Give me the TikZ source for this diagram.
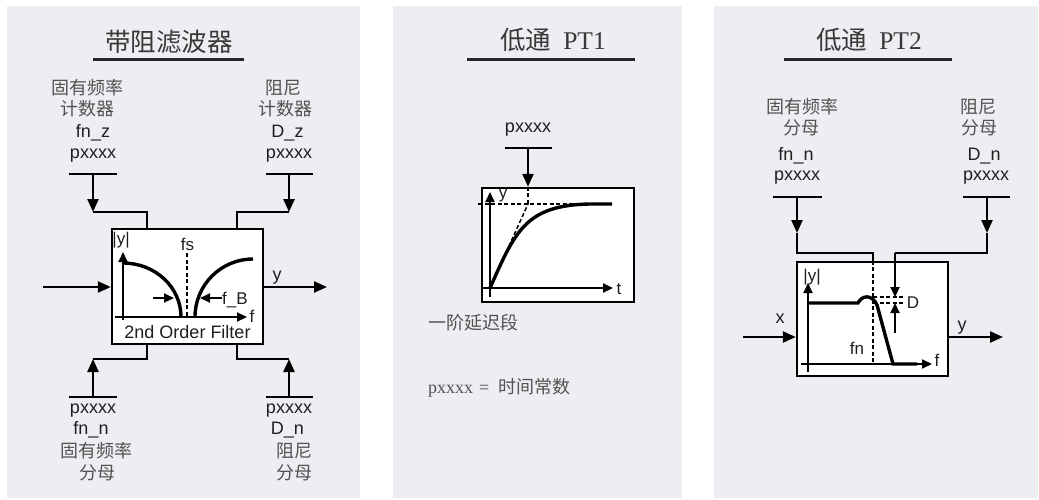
\documentclass[tikz,border=0pt]{standalone}
\usepackage{fontspec}
\setmainfont{Liberation Sans}
\newfontfamily\cjk{Noto Sans CJK SC}
\newfontfamily\serif{Liberation Serif}
\usetikzlibrary{arrows.meta}
\definecolor{panelgray}{RGB}{236,238,241}
\begin{document}
\begin{tikzpicture}[x=1pt,y=-1pt,
  wire/.style={line width=2.4pt},
  arr/.style={line width=2.4pt,-{Triangle[length=13pt,width=11pt]}},
  sarr/.style={line width=2pt,-{Triangle[length=10pt,width=9pt]}},
  dsh/.style={line width=1.5pt,dash pattern=on 4pt off 2.5pt},
  thk/.style={line width=3.4pt},
  box/.style={draw,line width=2.4pt,fill=white,inner sep=0pt},
  lab/.style={font=\fontsize{18}{21}\selectfont,inner sep=0pt,anchor=base,text=black!88},
  ilab/.style={font=\fontsize{17}{20}\selectfont,inner sep=0pt,anchor=base,text=black!88},
  cn/.style={font=\cjk\fontsize{18}{21}\selectfont,inner sep=0pt,anchor=base,text=black!68},
  ttl/.style={font=\fontsize{25.5}{30}\selectfont,inner sep=0pt,anchor=base,text=black!78},
  uline/.style={line width=3pt,black!85}]
\useasboundingbox (0,0) rectangle (1039,499);
% panels
\fill[panelgray] (7,6) rectangle (360,498);
\fill[panelgray] (393,6) rectangle (682,498);
\fill[panelgray] (714,6) rectangle (1038,498);

% ================= Panel 1 =================
\node[ttl] (t1) at (169,51) {\cjk 带阻滤波器};
\draw[uline] (93,59) -- (244,59);
\node[cn] (a1) at (87.5,94) {固有频率};
\node[cn] (a2) at (87.5,115) {计数器};
\node[lab] (a3) at (93,137) {fn\_z};
\node[lab] (a4) at (93,158) {pxxxx};
\node[cn] (b1) at (283,94) {阻尼};
\node[cn] (b2) at (285,115) {计数器};
\node[lab] (b3) at (287.5,137) {D\_z};
\node[lab] (b4) at (289,158) {pxxxx};
\draw[wire] (69,174) -- (117,174);
\draw[wire] (266,174) -- (313,174);
\node[box,minimum width=151pt,minimum height=115pt] (bs) at (187.5,286.5) {};
\coordinate (p1) at (93,174); \coordinate (k1) at (93,212); \coordinate (q1) at (147,229);
\coordinate (p2) at (289,174); \coordinate (k2) at (289,212); \coordinate (q2) at (237,229);
\draw[arr] (p1) -- (k1); \draw[wire] (k1) -| (q1);
\draw[arr] (p2) -- (k2); \draw[wire] (k2) -| (q2);
% bottom
\draw[wire] (69,397) -- (117,397);
\draw[wire] (266,397) -- (313,397);
\coordinate (p3) at (93,397); \coordinate (k3) at (93,359); \coordinate (q3) at (147,344);
\coordinate (p4) at (289,397); \coordinate (k4) at (289,359); \coordinate (q4) at (237,344);
\draw[arr] (p3) -- (k3); \draw[wire] (k3) -| (q3);
\draw[arr] (p4) -- (k4); \draw[wire] (k4) -| (q4);
\node[lab] (c1) at (93,413) {pxxxx};
\node[lab] (c2) at (91,434) {fn\_n};
\node[cn] (c3) at (96,457) {固有频率};
\node[cn] (c4) at (97,479) {分母};
\node[lab] (d1) at (289,413) {pxxxx};
\node[lab] (d2) at (287.5,434) {D\_n};
\node[cn] (d3) at (294,457) {阻尼};
\node[cn] (d4) at (294,479) {分母};
% in/out
\coordinate (in1) at (43,287); \coordinate (out1) at (327,287);
\draw[arr] (in1) -- (bs.west |- in1);
\draw[arr] (bs.east |- out1) -- (out1);
\node[lab] (y1) at (277,280) {y};
% inner
\draw[sarr] (123,320) -- (123,252);
\draw[sarr] (115,317) -- (247,317);
\draw[dsh] (187,253) -- (187,317);
\draw[thk] (123,263) .. controls (155,263) and (181,287) .. (181,317);
\draw[thk] (195,317) .. controls (195,285) and (221,259) .. (253,259);
\draw[sarr] (153,298) -- (174,298);
\draw[sarr] (222,298) -- (200,298);
\node[ilab] (e1) at (121,244) {|y|};
\node[ilab] (e2) at (187.5,250) {fs};
\node[ilab] (e3) at (252,322) {f};
\node[ilab,anchor=base west] (e4) at (222,304) {f\_B};
\node[lab] (e5) at (187.5,338) {2nd Order Filter};

% ================= Panel 2 =================
\node[ttl] (t2) at (553,49) {{\cjk 低通}\hspace{12pt}{\serif PT1}};
\draw[uline] (467,59) -- (635,59);
\node[lab] (f1) at (528,132) {pxxxx};
\draw[wire] (505,148) -- (552,148);
\node[box,minimum width=152pt,minimum height=114pt] (bp) at (558,245) {};
\coordinate (p5) at (528,148);
\draw[arr] (p5) -- (bp.north -| p5);
\coordinate (h5) at (528,204);
\draw[dsh] (bp.north -| p5) -- (h5);
\draw[sarr] (490,297) -- (490,192);
\draw[sarr] (482,288) -- (613,288);
\draw[dsh] (478,204) -- (590,204);
\draw[dsh] (490,288) -- (h5);
\draw[thk] (490,288) .. controls (515,232) and (525,205) .. (590,204) -- (612,204);
\node[ilab] (f2) at (503,198) {y};
\node[ilab] (f3) at (619,294) {t};
\node[cn,anchor=base west] (f4) at (428,329) {一阶延迟段};
\node[cn,anchor=base west] (f5) at (428,393) {{\serif pxxxx\hspace{6pt}=\hspace{9pt}}时间常数};

% ================= Panel 3 =================
\node[ttl] (t3) at (869,49) {{\cjk 低通}\hspace{12pt}{\serif PT2}};
\draw[uline] (784,59) -- (952,59);
\node[cn] (g1) at (802,113) {固有频率};
\node[cn] (g2) at (801,134) {分母};
\node[lab] (g3) at (796,160) {fn\_n};
\node[lab] (g4) at (797,180) {pxxxx};
\node[cn] (h1) at (978,113) {阻尼};
\node[cn] (h2) at (979,134) {分母};
\node[lab] (h3) at (984,160) {D\_n};
\node[lab] (h4) at (986,180) {pxxxx};
\draw[wire] (773,197) -- (822,197);
\draw[wire] (963,197) -- (1010,197);
\node[box,minimum width=151pt,minimum height=114pt] (bq) at (872.5,319) {};
\coordinate (p6) at (797,197); \coordinate (k6) at (797,233); \coordinate (m6) at (873,253);
\coordinate (p7) at (987,197); \coordinate (k7) at (987,233); \coordinate (m7) at (895,253);
\coordinate (dA) at (895,297); \coordinate (dB) at (895,303); \coordinate (dC) at (895,333);
\draw[arr] (p6) -- (k6); \draw[wire] (k6) |- (m6) -- (bq.north -| m6);
\draw[arr] (p7) -- (k7); \draw[wire] (k7) |- (m7);
\draw[sarr,line width=2.2pt] (m7) -- (dA);
\draw[sarr] (dC) -- (dB);
\draw[dsh] (bq.north -| m6) -- (873,364);
\draw[dsh] (873,297) -- (905,297);
\draw[dsh] (873,303) -- (905,303);
\draw[sarr] (808,372) -- (808,283);
\draw[sarr] (801,364) -- (932,364);
\draw[thk] (808,303) -- (858,303) .. controls (862,295) and (872,294) .. (877,305) -- (893,364) -- (917,364);
\node[ilab] (i1) at (812,281) {|y|};
\node[ilab] (i2) at (937,366) {f};
\node[ilab] (i3) at (913,308) {D};
\node[ilab] (i4) at (857,354) {fn};
\coordinate (in3) at (743,337); \coordinate (out3) at (1003,337);
\draw[arr] (in3) -- (bq.west |- in3);
\draw[arr] (bq.east |- out3) -- (out3);
\node[lab] (i5) at (780,323) {x};
\node[lab] (i6) at (962,330) {y};
\end{tikzpicture}
\end{document}
